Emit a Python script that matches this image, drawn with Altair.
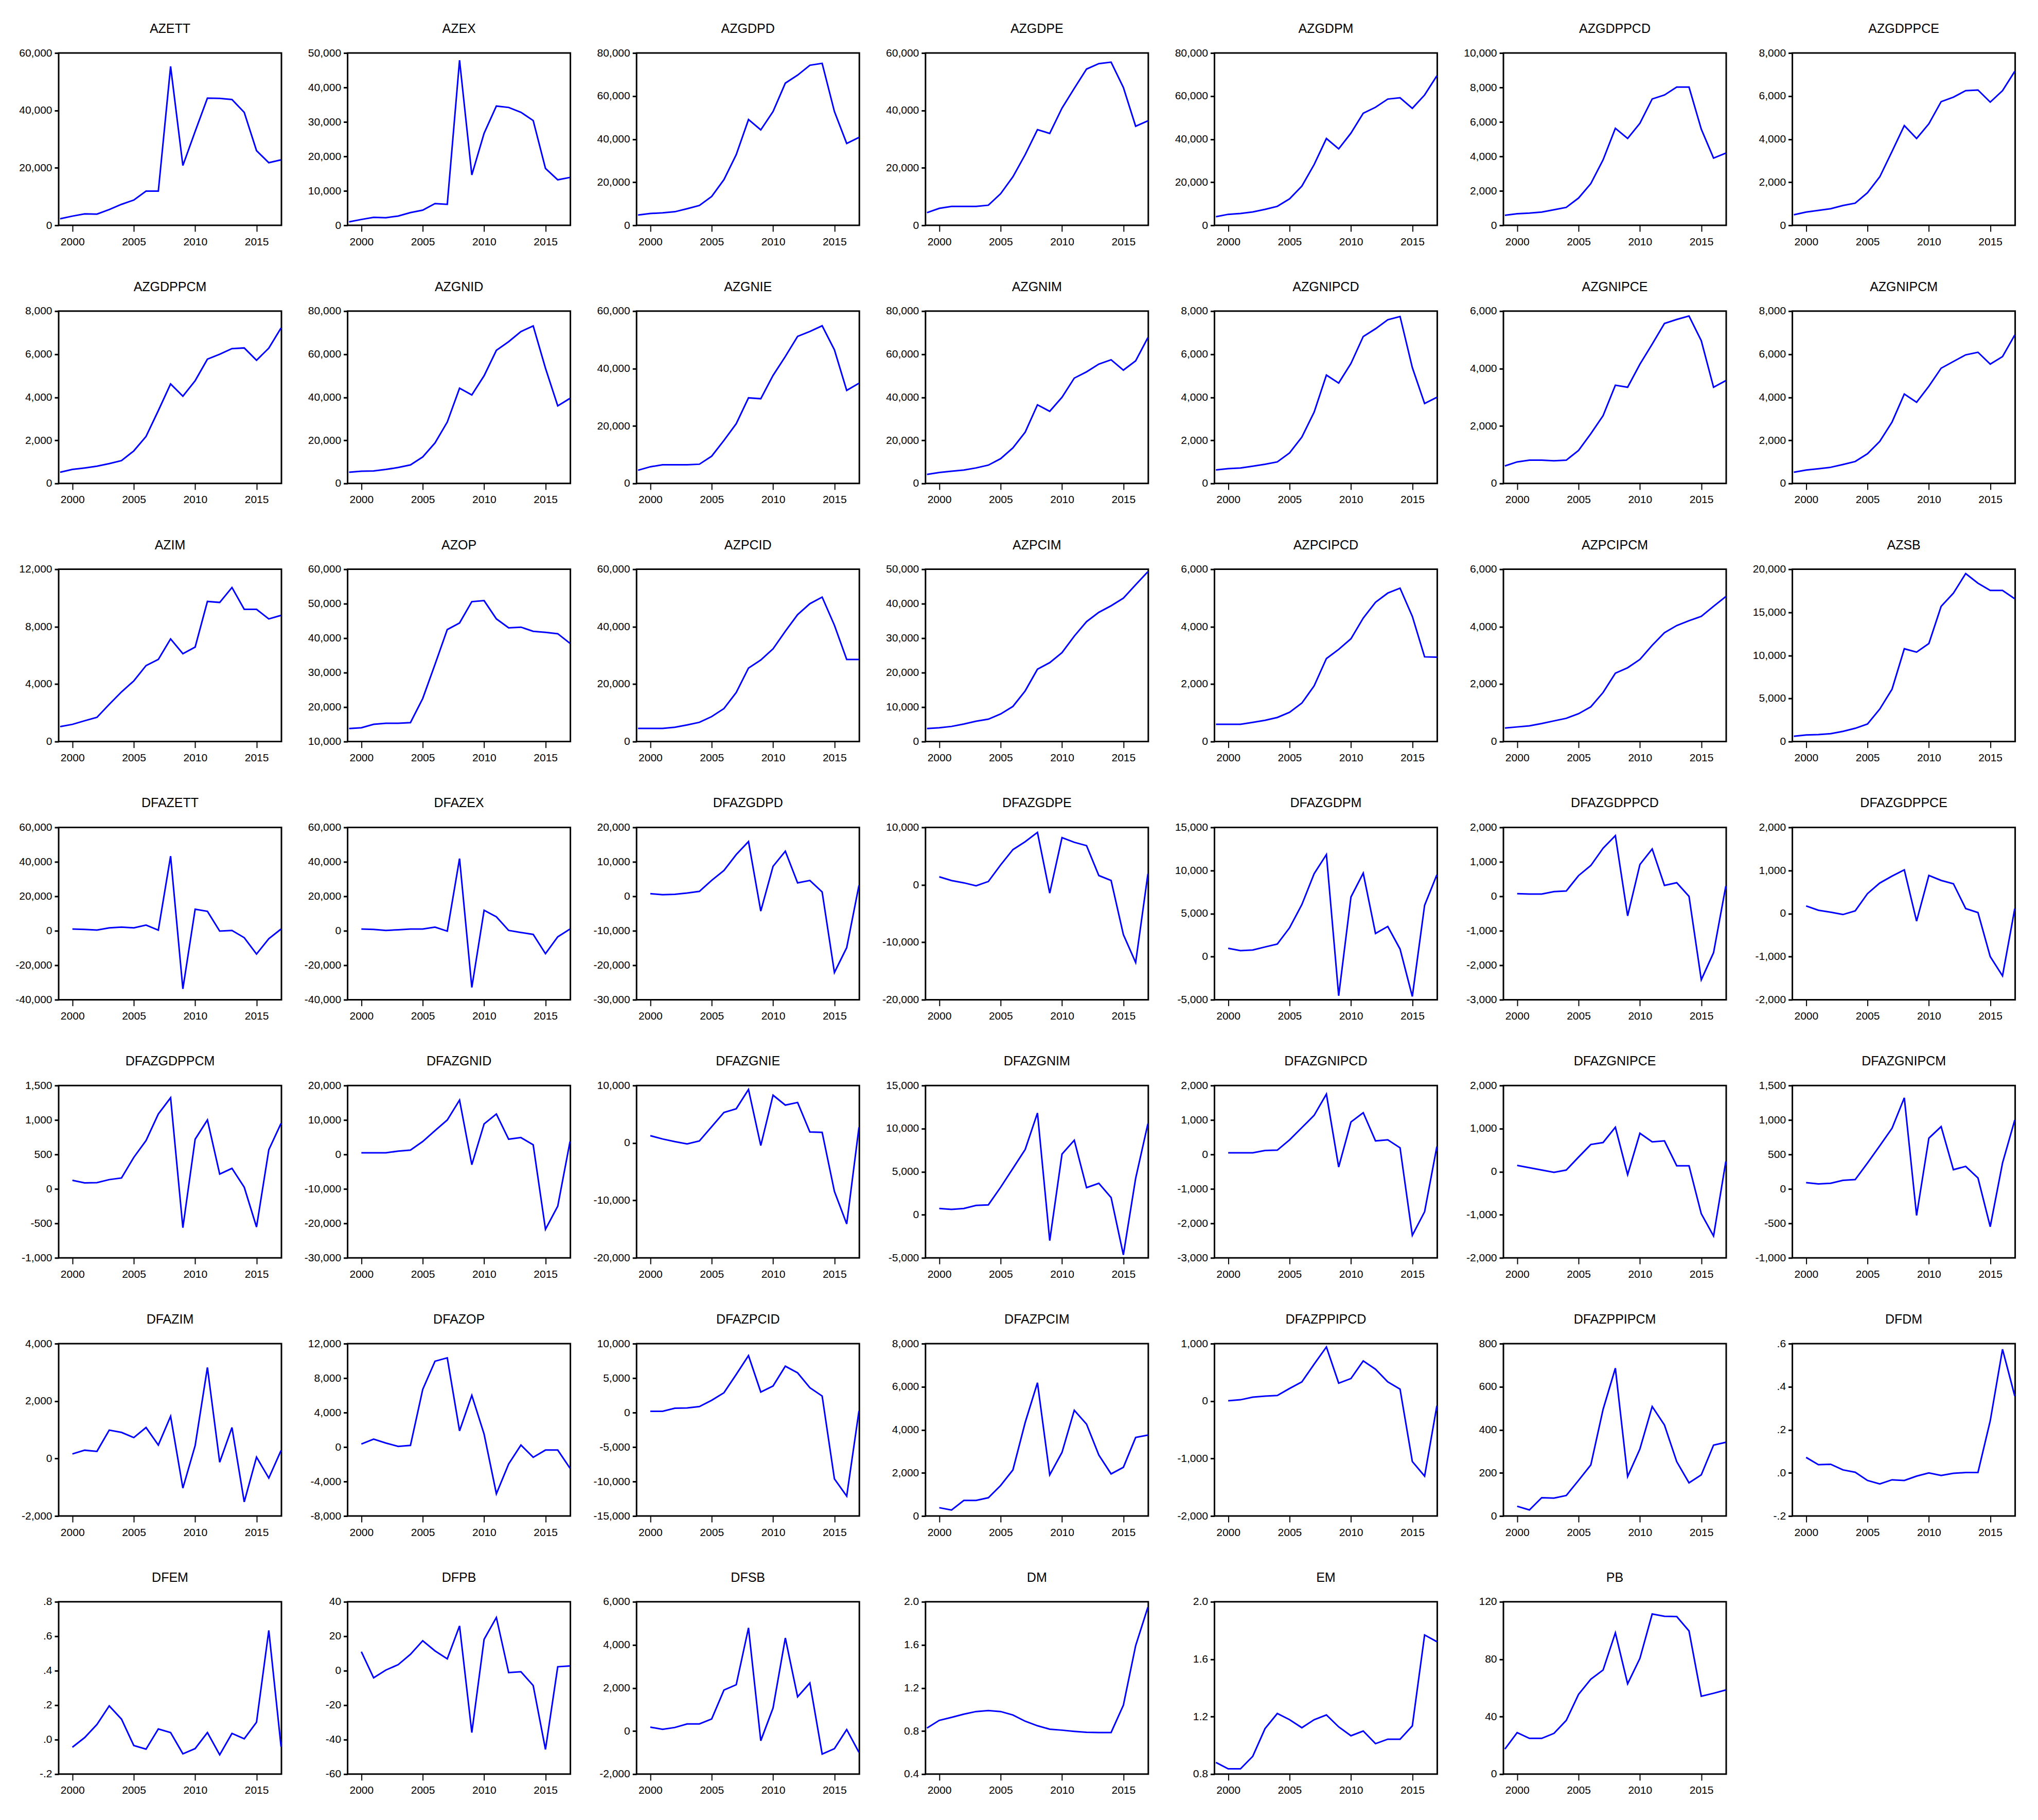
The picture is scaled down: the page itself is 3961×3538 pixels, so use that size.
import altair as alt
import pandas as pd

FONT = "'Liberation Sans Narrow', 'Arial Narrow', 'Liberation Sans', sans-serif"
BLUE = "#0000FF"

YEARS_LEVEL = list(range(1999, 2018))   # level series: 1999-2017
YEARS_DIFF = list(range(2000, 2018))    # differenced series: 2000-2017
X_TICKS = [2000, 2005, 2010, 2015]

# ---------------- series values ----------------
AZETT = [2300, 3200, 4000, 3900, 5500, 7300, 8800, 11900, 11900, 55300, 20800, 32700, 44300, 44200, 43800, 39300, 26000, 21800, 22800]
AZEX = [1000, 1700, 2300, 2200, 2700, 3700, 4400, 6300, 6100, 47900, 14600, 26700, 34600, 34200, 32800, 30400, 16500, 13200, 13900]
AZGDPD = [4800, 5500, 5800, 6300, 7700, 9200, 13400, 21200, 32800, 49100, 44300, 52800, 66000, 69700, 74300, 75200, 52800, 38000, 40800]
AZGDPE = [4400, 5900, 6600, 6600, 6600, 7000, 11000, 16900, 24600, 33300, 32000, 40800, 47700, 54400, 56300, 56800, 48000, 34500, 36400]
AZGDPM = [4000, 5100, 5500, 6200, 7400, 8800, 12300, 18200, 28200, 40300, 35500, 42800, 52000, 54800, 58600, 59200, 54300, 60500, 69400]
AZGDPPCD = [580, 670, 710, 770, 900, 1040, 1580, 2420, 3800, 5630, 5040, 5920, 7330, 7560, 8020, 8020, 5580, 3900, 4190]
AZGDPPCE = [490, 615, 690, 770, 920, 1030, 1510, 2250, 3430, 4630, 4030, 4710, 5740, 5950, 6250, 6280, 5720, 6250, 7150]
AZGDPPCM = [520, 650, 720, 800, 920, 1060, 1510, 2180, 3380, 4620, 4050, 4770, 5770, 6000, 6260, 6290, 5720, 6280, 7220]
AZGNID = [5200, 5700, 5800, 6500, 7400, 8600, 12300, 18800, 28500, 44200, 41100, 50000, 61800, 65800, 70500, 73100, 53500, 36000, 39500]
AZGNIE = [4600, 5800, 6500, 6500, 6500, 6700, 9500, 15000, 20800, 29800, 29500, 37600, 44200, 51200, 52900, 54900, 46500, 32400, 34900]
AZGNIM = [4200, 5100, 5700, 6200, 7200, 8500, 11500, 16500, 23800, 36500, 33500, 40000, 48900, 51800, 55400, 57400, 52600, 56900, 67700]
AZGNIPCD = [630, 690, 720, 800, 890, 1000, 1420, 2150, 3310, 5030, 4660, 5570, 6820, 7180, 7600, 7750, 5380, 3710, 4000]
AZGNIPCE = [610, 750, 810, 810, 790, 810, 1150, 1730, 2360, 3420, 3350, 4150, 4850, 5570, 5710, 5830, 4970, 3350, 3580]
AZGNIPCM = [520, 620, 680, 750, 880, 1020, 1380, 1950, 2850, 4150, 3770, 4510, 5350, 5660, 5970, 6090, 5540, 5890, 6890]
AZIM = [1040, 1200, 1450, 1690, 2590, 3460, 4220, 5290, 5720, 7150, 6120, 6580, 9760, 9690, 10730, 9210, 9210, 8540, 8790]
AZOP = [13800, 14000, 15000, 15300, 15300, 15500, 22500, 32400, 42500, 44400, 50600, 50900, 45600, 43000, 43200, 42000, 41700, 41300, 38500]
AZPCID = [4600, 4600, 4600, 5000, 5800, 6700, 8700, 11500, 17100, 25600, 28400, 32300, 38400, 44200, 48000, 50300, 40500, 28600, 28600]
AZPCIM = [3800, 4000, 4400, 5100, 5900, 6500, 8000, 10200, 14700, 21000, 22900, 25800, 30600, 34800, 37500, 39400, 41600, 45500, 49300]
AZPCIPCD = [600, 600, 600, 670, 740, 840, 1020, 1340, 1940, 2890, 3210, 3580, 4300, 4850, 5170, 5340, 4360, 2950, 2940]
AZPCIPCM = [470, 510, 550, 630, 720, 810, 970, 1210, 1710, 2380, 2570, 2860, 3350, 3790, 4040, 4210, 4360, 4710, 5050]
AZSB = [620, 770, 810, 920, 1190, 1540, 2040, 3770, 6080, 10770, 10380, 11380, 15690, 17230, 19500, 18380, 17540, 17540, 16580]
DFAZETT = [1000, 800, 400, 1700, 2100, 1700, 3300, 400, 43300, -33700, 12500, 11300, -200, 200, -4000, -13500, -4600, 1000]
DFAZEX = [1000, 800, 200, 600, 1000, 1000, 2100, -200, 41900, -32900, 11900, 8100, 200, -1000, -2100, -13300, -3500, 1000]
DFAZGDPD = [770, 480, 580, 960, 1440, 4620, 7500, 12100, 15900, -4300, 8700, 13100, 3900, 4600, 1250, -22100, -14900, 3200]
DFAZGDPE = [1390, 750, 350, -170, 580, 3470, 6130, 7510, 9130, -1450, 8210, 7400, 6820, 1620, 750, -8670, -13530, 1910]
DFAZGDPM = [960, 690, 770, 1120, 1460, 3350, 6040, 9620, 11850, -4540, 6920, 9690, 2690, 3500, 880, -4620, 5960, 9500]
DFAZGDPPCD = [77, 67, 67, 135, 154, 600, 894, 1394, 1760, -567, 923, 1375, 317, 394, 0, -2423, -1635, 298]
DFAZGDPPCE = [177, 77, 31, -23, 62, 462, 708, 869, 1015, -177, 885, 769, 692, 115, 23, -1000, -1446, 115]
DFAZGDPPCM = [125, 87, 91, 135, 159, 457, 702, 1087, 1322, -563, 721, 1000, 216, 298, 24, -553, 567, 952]
DFAZGNID = [480, 480, 480, 960, 1250, 3750, 6920, 10000, 15770, -2980, 8850, 11730, 4420, 4900, 2790, -21730, -15000, 3750]
DFAZGNIE = [1270, 690, 230, -170, 350, 2830, 5320, 5950, 9310, -460, 8320, 6590, 7050, 1910, 1850, -8440, -14100, 2720]
DFAZGNIM = [730, 620, 730, 1080, 1150, 3190, 5380, 7580, 11810, -3000, 7040, 8650, 3150, 3650, 2000, -4650, 4230, 10580]
DFAZGNIPCD = [48, 48, 48, 115, 125, 423, 779, 1135, 1750, -365, 942, 1212, 394, 423, 192, -2346, -1663, 231]
DFAZGNIPCE = [146, 92, 38, -15, 38, 338, 631, 677, 1031, -69, 892, 692, 715, 138, 138, -977, -1492, 238]
DFAZGNIPCM = [91, 72, 82, 125, 135, 375, 625, 880, 1322, -385, 736, 904, 279, 327, 159, -548, 375, 1000]
DFAZIM = [160, 290, 250, 990, 910, 730, 1080, 470, 1470, -1030, 450, 3170, -130, 1080, -1510, 50, -680, 280]
DFAZOP = [350, 920, 460, 80, 190, 6690, 9960, 10350, 1880, 6000, 1500, -5420, -1960, 230, -1190, -350, -350, -2460]
DFAZPCID = [190, 190, 630, 670, 870, 1780, 2880, 5530, 8270, 2980, 3850, 6730, 5770, 3610, 2400, -9620, -12120, 240]
DFAZPCIM = [385, 277, 723, 723, 846, 1415, 2138, 4340, 6185, 1908, 2954, 4908, 4262, 2830, 1954, 2260, 3646, 3754]
DFAZPPIPCD = [6, 23, 69, 87, 98, 220, 335, 642, 942, 312, 393, 699, 555, 335, 208, -1052, -1306, -81]
DFAZPPIPCM = [45, 28, 85, 83, 95, 165, 237, 495, 686, 183, 311, 508, 422, 252, 154, 191, 329, 342]
DFDM = [0.072, 0.038, 0.040, 0.014, 0.003, -0.035, -0.051, -0.032, -0.035, -0.015, 0.000, -0.012, -0.002, 0.002, 0.002, 0.242, 0.574, 0.357]
DFEM = [-0.044, 0.012, 0.088, 0.196, 0.119, -0.034, -0.055, 0.062, 0.041, -0.082, -0.052, 0.041, -0.088, 0.036, 0.005, 0.101, 0.634, -0.041]
DFPB = [11.0, -4.1, 0.4, 3.5, 9.5, 17.4, 11.5, 6.9, 26.0, -35.9, 18.2, 30.9, -1.1, -0.6, -8.6, -45.7, 2.3, 2.8]
DFSB = [180, 80, 165, 330, 330, 560, 1900, 2150, 4790, -450, 1070, 4320, 1590, 2230, -1070, -820, 70, -990]
DM = [0.828, 0.899, 0.927, 0.957, 0.981, 0.990, 0.981, 0.949, 0.891, 0.849, 0.817, 0.808, 0.797, 0.788, 0.786, 0.786, 1.040, 1.593, 1.950]
EM = [0.881, 0.837, 0.837, 0.924, 1.117, 1.222, 1.179, 1.123, 1.179, 1.212, 1.129, 1.067, 1.100, 1.012, 1.043, 1.043, 1.136, 1.769, 1.722]
PB = [17.4, 28.9, 24.9, 24.9, 28.4, 37.4, 55.5, 66.1, 72.5, 98.4, 62.9, 80.6, 111.5, 109.9, 109.7, 99.7, 54.2, 56.3, 58.6]

# ---------------- y tick labels per panel ----------------
T_60K = ["0", "20,000", "40,000", "60,000"]
T_50K = ["0", "10,000", "20,000", "30,000", "40,000", "50,000"]
T_80K = ["0", "20,000", "40,000", "60,000", "80,000"]
T_10K = ["0", "2,000", "4,000", "6,000", "8,000", "10,000"]
T_8K = ["0", "2,000", "4,000", "6,000", "8,000"]
T_6K = ["0", "2,000", "4,000", "6,000"]
T_12K = ["0", "4,000", "8,000", "12,000"]
T_OP = ["10,000", "20,000", "30,000", "40,000", "50,000", "60,000"]
T_20K5 = ["0", "5,000", "10,000", "15,000", "20,000"]
T_D60 = ["-40,000", "-20,000", "0", "20,000", "40,000", "60,000"]
T_D20 = ["-30,000", "-20,000", "-10,000", "0", "10,000", "20,000"]
T_D10 = ["-20,000", "-10,000", "0", "10,000"]
T_D15 = ["-5,000", "0", "5,000", "10,000", "15,000"]
T_D2K3 = ["-3,000", "-2,000", "-1,000", "0", "1,000", "2,000"]
T_D2K2 = ["-2,000", "-1,000", "0", "1,000", "2,000"]
T_D1500 = ["-1,000", "-500", "0", "500", "1,000", "1,500"]
T_DIM = ["-2,000", "0", "2,000", "4,000"]
T_DOP = ["-8,000", "-4,000", "0", "4,000", "8,000", "12,000"]
T_DPCID = ["-15,000", "-10,000", "-5,000", "0", "5,000", "10,000"]
T_DPCIM = ["0", "2,000", "4,000", "6,000", "8,000"]
T_DPPD = ["-2,000", "-1,000", "0", "1,000"]
T_DPPM = ["0", "200", "400", "600", "800"]
T_DFDM = ["-.2", ".0", ".2", ".4", ".6"]
T_DFEM = ["-.2", ".0", ".2", ".4", ".6", ".8"]
T_DFPB = ["-60", "-40", "-20", "0", "20", "40"]
T_DFSB = ["-2,000", "0", "2,000", "4,000", "6,000"]
T_DM = ["0.4", "0.8", "1.2", "1.6", "2.0"]
T_EM = ["0.8", "1.2", "1.6", "2.0"]
T_PB = ["0", "40", "80", "120"]

PANELS = [
    ("AZETT", AZETT, T_60K), ("AZEX", AZEX, T_50K), ("AZGDPD", AZGDPD, T_80K),
    ("AZGDPE", AZGDPE, T_60K), ("AZGDPM", AZGDPM, T_80K), ("AZGDPPCD", AZGDPPCD, T_10K),
    ("AZGDPPCE", AZGDPPCE, T_8K),
    ("AZGDPPCM", AZGDPPCM, T_8K), ("AZGNID", AZGNID, T_80K), ("AZGNIE", AZGNIE, T_60K),
    ("AZGNIM", AZGNIM, T_80K), ("AZGNIPCD", AZGNIPCD, T_8K), ("AZGNIPCE", AZGNIPCE, T_6K),
    ("AZGNIPCM", AZGNIPCM, T_8K),
    ("AZIM", AZIM, T_12K), ("AZOP", AZOP, T_OP), ("AZPCID", AZPCID, T_60K),
    ("AZPCIM", AZPCIM, T_50K), ("AZPCIPCD", AZPCIPCD, T_6K), ("AZPCIPCM", AZPCIPCM, T_6K),
    ("AZSB", AZSB, T_20K5),
    ("DFAZETT", DFAZETT, T_D60), ("DFAZEX", DFAZEX, T_D60), ("DFAZGDPD", DFAZGDPD, T_D20),
    ("DFAZGDPE", DFAZGDPE, T_D10), ("DFAZGDPM", DFAZGDPM, T_D15), ("DFAZGDPPCD", DFAZGDPPCD, T_D2K3),
    ("DFAZGDPPCE", DFAZGDPPCE, T_D2K2),
    ("DFAZGDPPCM", DFAZGDPPCM, T_D1500), ("DFAZGNID", DFAZGNID, T_D20), ("DFAZGNIE", DFAZGNIE, T_D10),
    ("DFAZGNIM", DFAZGNIM, T_D15), ("DFAZGNIPCD", DFAZGNIPCD, T_D2K3), ("DFAZGNIPCE", DFAZGNIPCE, T_D2K2),
    ("DFAZGNIPCM", DFAZGNIPCM, T_D1500),
    ("DFAZIM", DFAZIM, T_DIM), ("DFAZOP", DFAZOP, T_DOP), ("DFAZPCID", DFAZPCID, T_DPCID),
    ("DFAZPCIM", DFAZPCIM, T_DPCIM), ("DFAZPPIPCD", DFAZPPIPCD, T_DPPD), ("DFAZPPIPCM", DFAZPPIPCM, T_DPPM),
    ("DFDM", DFDM, T_DFDM),
    ("DFEM", DFEM, T_DFEM), ("DFPB", DFPB, T_DFPB), ("DFSB", DFSB, T_DFSB),
    ("DM", DM, T_DM), ("EM", EM, T_EM), ("PB", PB, T_PB),
]

PW, PH = 433, 335


def label_expr(ticks):
    parts = []
    for t in ticks:
        v = float(t.replace(",", ""))
        parts.append(f"datum.value == {v!r} ? '{t}'")
    return " : ".join(parts) + " : ''"


def panel(name, vals, ticks):
    years = YEARS_LEVEL if len(vals) == len(YEARS_LEVEL) else YEARS_DIFF
    df = pd.DataFrame({"year": years, "value": vals})
    tv = [float(t.replace(",", "")) for t in ticks]
    return (
        alt.Chart(df, title=alt.TitleParams(
            text=name, font=FONT, fontSize=25, fontWeight="normal",
            color="black", anchor="middle", offset=23))
        .mark_line(color=BLUE, strokeWidth=3, clip=True)
        .encode(
            x=alt.X("year:Q",
                    scale=alt.Scale(domain=[1998.88, 2017.03], nice=False, zero=False),
                    axis=alt.Axis(values=X_TICKS, format="d", title=None, grid=False,
                                  domain=False, tickSize=12, tickWidth=2, tickColor="black",
                                  labelFont=FONT, labelFontSize=21, labelColor="black",
                                  labelPadding=9, labelFlush=False, labelOverlap=False)),
            y=alt.Y("value:Q",
                    scale=alt.Scale(domain=[min(tv), max(tv)], nice=False, zero=False),
                    axis=alt.Axis(values=tv, labelExpr=label_expr(ticks), title=None,
                                  grid=False, domain=False, tickSize=8, tickWidth=3,
                                  tickColor="black", labelFont=FONT, labelFontSize=21,
                                  labelColor="black", labelPadding=5, labelFlush=False,
                                  labelOverlap=False)),
        )
        .properties(width=PW, height=PH)
    )


charts = [panel(n, v, t) for n, v, t in PANELS]

chart = (
    alt.concat(*charts, columns=7, spacing={"row": 166.8, "column": 128.6}, bounds="flush")
    .properties(padding={"left": 20, "top": 34, "right": 5, "bottom": 5}, background="white")
    .configure_view(stroke="black", strokeWidth=3)
)

chart.save("out.html", embed_options={"renderer": "svg", "actions": False})
